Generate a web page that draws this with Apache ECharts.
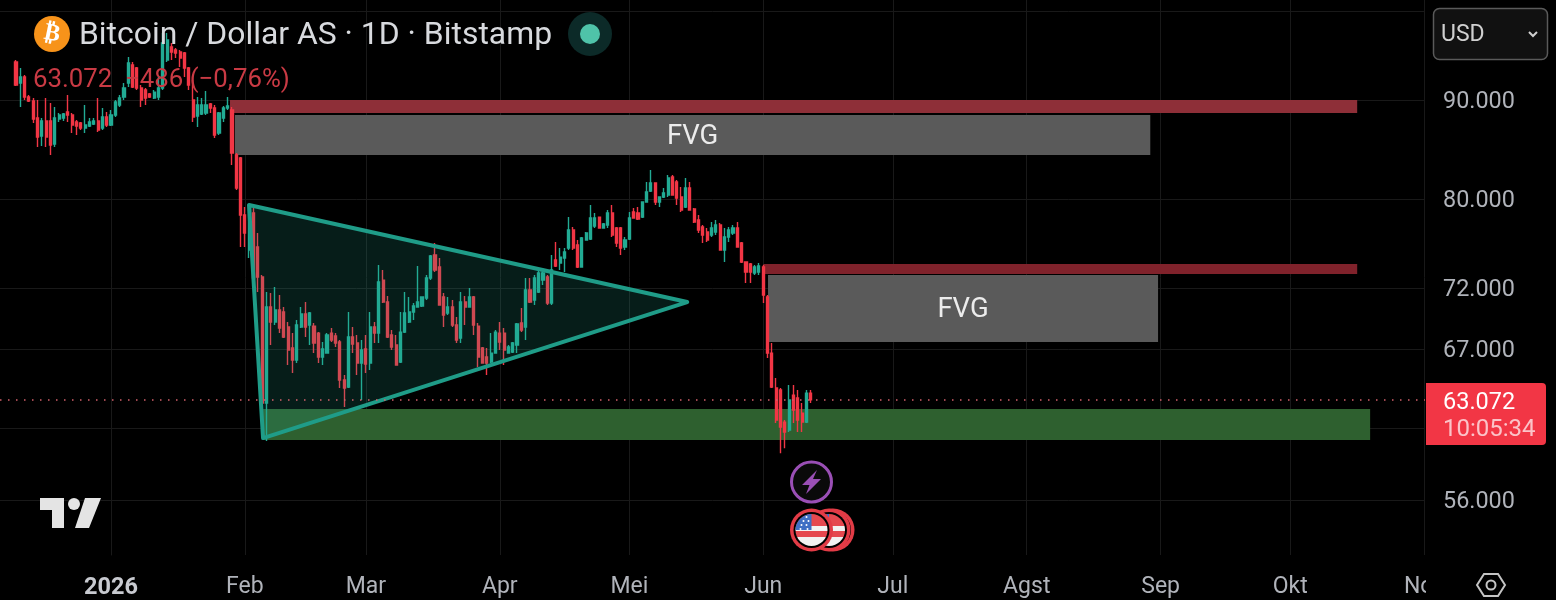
<!DOCTYPE html>
<html><head><meta charset="utf-8"><title>BTC</title>
<style>html,body{margin:0;padding:0;background:#000;overflow:hidden}#c{width:1556px;height:600px}</style>
<script src="https://cdn.jsdelivr.net/npm/echarts@6/dist/echarts.min.js"></script>
</head><body><div id="c"></div>
<script>
// ---- data ----
const firstDay = -22; // days from 2026-01-01 of the first candle
const opens = [94150,91840,92490,90320,89890,88100,86240,87790,87790,85420,88000,88100,88730,88410,87680,87580,87060,87270,87480,87790,87060,88210,
87370,88410,89470,90320,91840,93820,93480,91290,91070,90640,90210,90320,91290,94370,95840,95500,95270,95160,93480,90000,88310,88520,88620,89570,89150,86540,88100,89150,88940,84320,84020,78520,75330,78710,75600,72950,
62820,70400,69160,70150,69990,68750,67060,66110,68750,69820,68920,68830,68260,66350,66660,68260,68020,67540,64560,64030,67940,67460,65880,66980,65880,68750,68260,
72690,70820,68100,67300,65950,68340,69160,69990,70400,70490,71160,72870,74880,73830,71240,69900,70400,68920,67860,70820,70400,71240,68830,67060,66350,65950,66660,68260,68260,66660,66740,67300,69080,
68750,71840,70990,71670,72690,72950,70740,74440,74170,74620,75510,77140,75780,73830,76230,76320,77500,78330,77320,77600,78710,77320,77320,75600,76320,78800,78710,78330,79740,80790,81560,79740,80220,80410,82150,81660,80220,79270,81080,79080,78060,77410,76950,76680,76950,77600,75330,76500,76860,77320,75960,74260,74090,73300,73390,73830,71240,66660,63950,63800,61420,60840,63420,63200,62080,61420,63558];
const closes = [91620,92490,90320,89890,88000,86140,87790,86140,85320,88100,88410,88520,88410,87370,87270,87060,87370,87680,87790,86850,88210,87370,
88410,89790,90210,91290,94040,91400,91290,90000,90210,90320,90850,91290,96300,96640,95270,95160,94590,93480,91620,88210,89470,89470,89470,89150,86340,88620,89150,89360,84520,81080,78520,76860,79270,72870,72950,62820,
70400,69160,70150,68670,67940,66900,66110,68920,69820,68750,69900,67460,66350,66980,68100,67700,67460,64560,63950,67940,67380,65880,66900,65800,68750,68260,72520,
70820,67940,67140,65720,68340,69900,69990,70490,70820,71240,72870,74790,73560,70570,69740,70400,68920,67700,70820,70400,71240,68920,66350,65880,65880,66660,68340,67540,66900,67140,67460,69000,68510,
71840,70820,72870,73300,73300,70740,73560,73910,74700,75150,77140,75510,73830,76410,76860,78240,78240,77320,77690,78710,76680,75960,75510,76230,78240,78240,78150,79740,80700,81560,79740,80220,80600,82050,80410,80120,78990,81080,78990,77870,77140,76680,76230,77320,77600,75330,76500,77140,77320,75600,74260,73390,73390,73830,73910,71410,66660,64030,61570,61060,60700,63050,62300,61570,61420,63570,63072];
const lows = [91510,89260,90000,89790,87580,85120,85220,85120,84320,85120,87680,87790,87680,86540,86340,86850,86540,87170,87370,86650,86850,87170,
87270,88210,89260,90000,91400,91290,91070,89260,89470,90210,90110,90000,91070,94150,94370,94590,93590,92490,91070,87680,87170,88410,88410,88620,86030,86340,87680,88940,83320,80890,75600,75600,74620,72870,71670,62450,
60050,67300,68920,68260,67860,65720,65100,65880,68670,67940,67300,66660,65880,65720,66660,67540,67140,63950,62530,63950,66660,64950,63050,65100,65330,67460,67460,
70740,67860,66900,65720,65880,68260,69080,69320,70400,70400,70990,72690,73390,70570,68750,69740,68750,67460,67460,68920,70400,68100,65570,65880,64950,65880,66660,66900,65720,66660,66660,66660,68340,
67700,70740,70570,71580,72260,70570,70570,73830,73560,73390,75330,75330,73740,73830,76230,76230,77320,77320,77320,77320,76500,75600,74880,75330,76230,78240,78060,78240,79740,80700,79460,79270,80120,80220,80410,79460,78800,79180,78990,77780,76860,75960,76050,76500,76680,75330,74260,76050,76680,75600,74170,72430,72430,73130,73130,70740,66270,63950,61350,59200,59550,60700,61350,60700,60700,61350,62820];
const highs = [94370,93480,92710,90530,90210,90000,88100,90210,89680,89260,88620,88620,90530,88620,87890,87680,89470,88100,88100,90210,89150,88730,
88940,90000,90530,91840,94700,94150,93590,91620,91290,90750,91070,92490,97450,97450,96300,95730,95500,95270,93590,92160,90320,90210,90960,89680,89470,88730,89360,90320,89260,84520,84120,79270,79460,79180,76860,73130,
71670,71580,72090,71410,70400,69160,68260,69320,70400,70820,69990,69080,68340,67540,68260,68670,68260,67700,64950,69990,68750,68100,67700,68100,69990,69160,74000,
73560,71330,68510,68100,69990,71670,71240,70740,73910,71240,73130,74880,75960,74620,71580,71240,70990,69570,71670,71330,72010,71330,69080,67140,67060,68260,68510,69160,68670,67300,67540,69080,70320,
72870,72870,73130,73560,73740,73130,74880,76050,75510,75510,78330,77410,76230,76500,76950,79460,78710,78330,77780,78990,79460,77410,77410,76500,78800,79180,79270,79740,81660,82830,81560,80220,81080,82340,82340,81850,81180,82050,81660,79180,78520,77600,77320,77870,78060,77780,77320,77410,77600,77870,76050,74260,74170,74000,74170,74000,71410,67460,64720,63950,61570,64180,64180,63800,62820,63800,63800];

const monthDays = [0,31,59,90,120,151,181,212,243,273,304];
const monthNames = ['2026','Feb','Mar','Apr','Mei','Jun','Jul','Agst','Sep','Okt','Nov'];
const priceLabels = [90000,80000,72000,67000,56000];
const priceGrid = [100000,90000,80000,72000,67000,61000,56000];
const lastPrice = 63072;

const zoneStart  = [27.55,28.7,151,152.1,35.2];
const zoneEnd    = [288.5,240.6,288.5,242.4,291.5];
const zoneTop    = [90000,88410,74090,73130,62380];
const zoneBottom = [88620,84320,73220,67540,60130];
const zoneText   = ['','FVG','','FVG',''];
const triangleDays   = [31.95,35.2,133.4];
const trianglePrices = [79460,60270,70820];

// ---- chart ----
const zoneColors = ['#8e2f38','#5a5a5a','#80222b','#5a5a5a','#2e602f'];
const candles = opens.map((o,i)=>[firstDay+i,o,closes[i],lows[i],highs[i]]);
const zones = zoneStart.map((s,i)=>[s,zoneTop[i],zoneEnd[i],zoneBottom[i]]);
const tri = triangleDays.map((d,i)=>[d,trianglePrices[i]]);
const grey='#b0b3ba', font='Roboto';

const G = [];
const T = (x,y,text,size,fill,extra)=>G.push({type:'text',x,y,style:Object.assign({text,fill,font:`${size}px ${font}`,textVerticalAlign:'middle',textBaseline:'middle'},extra||{})});
const C = (cx,cy,r,style)=>G.push({type:'circle',shape:{cx,cy,r},style});
// cover clipped axis label part
G.push({type:'rect',shape:{x:1426,y:562,width:50,height:38},style:{fill:'#000'}});
// header
C(52,34,18,{fill:'#f7931a'});
G.push({type:'text',x:52,y:34,rotation:-0.2,originX:0,originY:0,style:{text:'₿',fill:'#fff',font:'bold 24px "DejaVu Sans"',textAlign:'center',textVerticalAlign:'middle',textBaseline:'middle'}});
T(79,36.5,'Bitcoin / Dollar AS · 1D · Bitstamp',31.9,'#d8dade');
C(590,34,22,{fill:'#0c2a28'});
C(590,34,10,{fill:'#4fc3a9'});
T(33,81,'63.072  −486 (−0,76%)',25.8,'#c93a44');
// USD selector
G.push({type:'rect',shape:{x:1433.5,y:8.5,width:114,height:51,r:6},style:{fill:'#111',stroke:'#5a5a5a',lineWidth:1.5}});
T(1441,35.5,'USD',23,'#d0d0d0');
G.push({type:'polyline',shape:{points:[[1529,32],[1533,36],[1537,32]]},style:{stroke:'#d0d0d0',lineWidth:2,fill:null}});
// last price label
G.push({type:'rect',shape:{x:1426,y:383,width:120,height:62,r:[0,4,4,0]},style:{fill:'#f23645'}});
T(1443,403,'63.072',23.5,'#fff');
T(1443,430,'10:05:34',24,'#fbc3c8');
// logo
G.push({type:'polygon',shape:{points:[[40,498],[64,498],[64,528],[52,528],[52,510],[40,510]]},style:{fill:'#e4e4e4'}});
C(74,504,6,{fill:'#e4e4e4'});
G.push({type:'polygon',shape:{points:[[85,498],[101,498],[89,528],[75,528]]},style:{fill:'#e4e4e4'}});
// purple event marker
C(811.5,482,20,{fill:'#0a0a0a',stroke:'#9a4fb5',lineWidth:3});
G.push({type:'polygon',shape:{points:[[817,470],[802,485],[809.5,485],[806,494],[821,479],[813,479]]},style:{fill:'#9a4fb5'}});
// flags
const flag=(cx,cy)=>{
  C(cx,cy,21.5,{fill:'#e23b46'});
  C(cx,cy,18,{fill:'#000'});
  const red='#e5484f',w='#f2f2f2',st=[0,.36,.36,.54,.54,.72,.72,1],cl=[red,red,w,w,red,red,w,w];
  C(cx,cy,16,{fill:{type:'linear',x:0,y:0,x2:0,y2:1,colorStops:st.map((o,i)=>({offset:o,color:cl[i]}))}});
  G.push({type:'sector',shape:{cx,cy,r:16,r0:0,startAngle:Math.PI,endAngle:Math.PI*1.5},style:{fill:'#3f6fc4'}});
  [[-10,-5],[-5,-5],[-8,-9],[-3,-9],[-5,-13],[-11,-1],[-4,-1]].forEach(p=>C(cx+p[0],cy+p[1],1,{fill:'#fff'}));
};
flag(833,530); flag(829,530); flag(811.5,530);
// settings hexagon
G.push({type:'polygon',shape:{points:[[1477,585],[1484,574],[1498,574],[1505,585],[1498,596],[1484,596]]},style:{fill:null,stroke:'#c4c4c4',lineWidth:2}});
C(1491,585,4.5,{fill:null,stroke:'#c4c4c4',lineWidth:2});

const chart = echarts.init(document.getElementById('c'),null,{renderer:'canvas'});
chart.setOption({
  backgroundColor:'#000',
  animation:false,
  grid:{left:0,top:0,width:1425,height:555,containLabel:false},
  xAxis:{type:'value',min:-25.7,max:304.2,
    axisLine:{show:false},
    axisTick:{show:false,customValues:monthDays},
    splitLine:{show:true,lineStyle:{color:'#191919',width:1}},
    minorSplitLine:{show:false},
    axisLabel:{customValues:monthDays,margin:21,fontFamily:font,fontSize:23,color:grey,hideOverlap:false,showMinLabel:true,showMaxLabel:true,
      formatter:v=>{const i=monthDays.indexOf(v);return i===0?'{b|2026}':monthNames[i];},
      rich:{b:{fontFamily:font,fontSize:23.5,fontWeight:'bold',color:'#c8cad0'}}}
  },
  yAxis:{type:'log',logBase:10,position:'right',min:52462,max:101336,
    axisLine:{show:true,lineStyle:{color:'#191919'}},
    axisTick:{show:false,customValues:priceGrid},
    splitLine:{show:true,lineStyle:{color:'#191919',width:1}},
    minorSplitLine:{show:false},
    axisLabel:{customValues:priceLabels,margin:18,fontFamily:font,fontSize:23.4,color:grey,
      formatter:v=>'{a|'+Math.round(v).toLocaleString('de-DE')+'}',
      rich:{a:{fontFamily:font,fontSize:23.4,color:grey,padding:[4,0,0,0]}}}
  },
  series:[
    {type:'custom',name:'zones',z:1,clip:false,coordinateSystem:'cartesian2d',encode:{x:[0,2],y:[1,3]},data:zones,silent:true,
     renderItem:(p,api)=>{
       const a=api.coord([api.value(0),api.value(1)]),b=api.coord([api.value(2),api.value(3)]),i=p.dataIndex;
       return {type:'rect',shape:{x:a[0],y:a[1],width:b[0]-a[0],height:b[1]-a[1]},style:{fill:zoneColors[i]},
         textContent:{style:{text:zoneText[i],fill:'#ececec',font:`27.5px ${font}`}},textConfig:{position:'inside',offset:[0,2]}};
     }},
    {type:'candlestick',name:'BTC',z:2,barWidth:2.6,data:candles,
     itemStyle:{color:'#22ab94',color0:'#f23645',borderColor:'#22ab94',borderColor0:'#f23645',borderWidth:1.4},
     markLine:{symbol:'none',silent:true,animation:false,label:{show:false},
       lineStyle:{color:'#d4606b',type:[1.5,6.5],width:1.5},data:[{yAxis:lastPrice}]}},
    {type:'custom',name:'triangle',z:3,encode:{x:0,y:1},data:tri,silent:true,
     renderItem:(p,api)=>{
       if(p.dataIndex!==0) return null;
       const pts=tri.map(t=>api.coord(t));
       return {type:'polygon',shape:{points:pts},style:{fill:'rgba(34,171,148,0.17)',stroke:'#1f9c88',lineWidth:4,lineJoin:'round'}};
     }}
  ],
  graphic:{elements:G.map(e=>Object.assign({z:50,silent:true},e))}
});
</script></body></html>
